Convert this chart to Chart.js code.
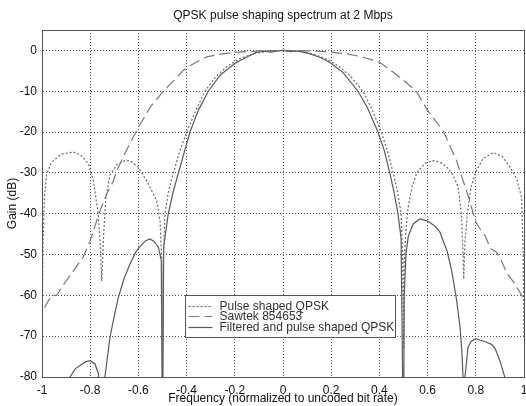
<!DOCTYPE html>
<html>
<head>
<meta charset="utf-8">
<script src="https://cdn.jsdelivr.net/npm/chart.js@4.4.1/dist/chart.umd.min.js"></script>
<style>
html, body { margin: 0; padding: 0; background: #fff; }
#wrap { width: 526px; height: 406px; }
</style>
</head>
<body>
<div id="wrap"><canvas id="spectrum" width="526" height="406"></canvas></div>
<script>
const getEl = (id) => document.getElementById(id);

const freqTicks = [-1, -0.8, -0.6, -0.4, -0.2, 0, 0.2, 0.4, 0.6, 0.8, 1];
const gainTicks = [-80, -70, -60, -50, -40, -30, -20, -10, 0];

// Pulse shaped QPSK (dotted)
const pulseFreq = [-1.0, -0.996, -0.99, -0.981, -0.965, -0.953, -0.92, -0.87, -0.84, -0.808, -0.787, -0.767, -0.758, -0.752, -0.745, -0.735, -0.718, -0.69, -0.66, -0.635, -0.6, -0.566, -0.524, -0.51, -0.503, -0.5, -0.497, -0.49, -0.475, -0.455, -0.43, -0.4, -0.36, -0.324, -0.28, -0.23, -0.178, -0.12, -0.06, 0, 0.06, 0.12, 0.18, 0.23, 0.28, 0.332, 0.37, 0.408, 0.435, 0.457, 0.475, 0.49, 0.497, 0.5, 0.503, 0.51, 0.519, 0.535, 0.555, 0.59, 0.624, 0.65, 0.68, 0.705, 0.727, 0.74, 0.746, 0.75, 0.755, 0.765, 0.78, 0.8, 0.83, 0.873, 0.91, 0.942, 0.97, 0.99, 0.996, 1.0];
const pulseGain = [-71, -48, -36, -30.5, -28, -27, -25.4, -24.9, -25.6, -27.7, -31.9, -40, -48, -56.5, -46, -36, -30.5, -28, -27.1, -27, -28.6, -31.9, -36.8, -42, -52, -75, -52, -40, -34.5, -30, -25, -20, -14.5, -10, -6.5, -3.8, -2, -0.8, -0.2, 0, -0.2, -0.8, -2.1, -3.8, -6.3, -10, -14.5, -20, -25, -30, -34.5, -40, -52, -73, -52, -44, -38.5, -33.5, -30, -27.6, -27, -27.3, -28.6, -30.5, -33.5, -40, -48, -56, -47, -40, -33.5, -29.8, -26.5, -25, -26, -28.6, -31.5, -36, -48, -70];

// Sawtek 854653 (dashed)
const sawtekFreq = [-0.99, -0.975, -0.96, -0.939, -0.918, -0.87, -0.829, -0.8, -0.759, -0.73, -0.704, -0.69, -0.65, -0.6, -0.55, -0.497, -0.45, -0.414, -0.37, -0.317, -0.26, -0.206, -0.1, 0, 0.1, 0.18, 0.26, 0.33, 0.4, 0.45, 0.5, 0.553, 0.6, 0.664, 0.72, 0.776, 0.797, 0.82, 0.84, 0.86, 0.887, 0.91, 0.928, 0.96, 0.996];
const sawtekGain = [-63, -61.5, -60, -60, -58, -54, -50.6, -46.6, -39.2, -35, -32, -29.5, -24.5, -18.8, -13.8, -10, -7.2, -4.9, -3.2, -1.6, -0.9, -0.5, -0.1, 0, -0.1, -0.3, -0.8, -1.6, -2.9, -5, -7.3, -10, -14.7, -19.6, -27, -37, -41.7, -44, -45.5, -48.5, -49.5, -52, -54.5, -57, -60.5];

// Filtered and pulse shaped QPSK (solid)
const filteredFreq = [-0.9, -0.884, -0.862, -0.842, -0.82, -0.8, -0.78, -0.766, -0.752, -0.739, -0.718, -0.7, -0.683, -0.66, -0.635, -0.61, -0.593, -0.57, -0.552, -0.535, -0.517, -0.505, -0.5, -0.495, -0.476, -0.455, -0.434, -0.41, -0.386, -0.35, -0.31, -0.26, -0.2, -0.15, -0.11, -0.08, -0.05, -0.02, 0, 0.03, 0.06, 0.1, 0.15, 0.194, 0.25, 0.311, 0.35, 0.394, 0.42, 0.443, 0.46, 0.477, 0.49, 0.5, 0.503, 0.51, 0.52, 0.54, 0.568, 0.6, 0.63, 0.651, 0.68, 0.7, 0.72, 0.735, 0.742, 0.747, 0.751, 0.755, 0.768, 0.78, 0.8, 0.82, 0.845, 0.865, 0.88, 0.9, 0.92, 0.93];
const filteredGain = [-84, -80, -78, -77.2, -76.3, -76, -76.8, -79.2, -95, -80, -70.3, -65, -60.5, -56, -52.3, -49.3, -48, -46.6, -46.2, -46.8, -48.2, -51.5, -100, -48, -40, -34.5, -30, -25, -20, -14.5, -10, -6, -3.2, -1.6, -0.5, -0.2, -0.4, -0.1, 0, -0.3, -0.1, -0.6, -1.6, -2.9, -5.5, -10, -14, -20, -24.5, -30, -34.5, -40, -46, -100, -60, -50, -45.5, -42.5, -41.3, -41.8, -43, -44.5, -49, -54, -61, -68, -73.5, -80, -95, -80, -72.7, -71.3, -70.6, -71, -71.5, -72, -73, -76, -80, -84];

const toPoints = (xs, ys) => xs.map((x, i) => ({ x: x, y: ys[i] }));

const textFont = { family: "'Liberation Sans', Arial, sans-serif", size: 12 };

// frame round the plot and the boxed legend inside it
const frameAndLegend = {
    id: 'frameAndLegend',
    afterDatasetsDraw(chart) {
        const { ctx, chartArea: a, scales: { x, y } } = chart;
        ctx.save();
        ctx.strokeStyle = '#555';
        ctx.lineWidth = 1;
        ctx.strokeRect(Math.round(a.left) + 0.5, Math.round(a.top) + 0.5, Math.round(a.right - a.left), Math.round(a.bottom - a.top));

        const left = Math.round(x.getPixelForValue(-0.405)) + 0.5;
        const right = Math.round(x.getPixelForValue(0.465)) + 0.5;
        const top = Math.round(y.getPixelForValue(-60)) + 0.5;
        const bottom = Math.round(y.getPixelForValue(-70.3)) + 0.5;
        ctx.fillStyle = '#fff';
        ctx.fillRect(left, top, right - left, bottom - top);
        ctx.strokeStyle = '#555';
        ctx.strokeRect(left, top, right - left, bottom - top);

        ctx.font = "12px 'Liberation Sans', Arial, sans-serif";
        ctx.textBaseline = 'middle';
        chart.data.datasets.forEach((ds, i) => {
            const ly = Math.round(top + 10 + i * 10.5) + 0.5;
            ctx.strokeStyle = ds.borderColor;
            ctx.lineWidth = ds.borderWidth;
            ctx.setLineDash(ds.borderDash || []);
            ctx.beginPath();
            ctx.moveTo(left + 3, ly);
            ctx.lineTo(left + 27, ly);
            ctx.stroke();
            ctx.setLineDash([]);
            ctx.fillStyle = '#333';
            ctx.fillText(ds.label, left + 34, ly);
        });
        ctx.restore();
    }
};

new Chart(getEl('spectrum').getContext('2d'), {
    type: 'scatter',
    data: {
        datasets: [
            { label: 'Pulse shaped QPSK', data: toPoints(pulseFreq, pulseGain), borderColor: '#6a6a6a', borderWidth: 1.2, borderDash: [2, 2] },
            { label: 'Sawtek 854653', data: toPoints(sawtekFreq, sawtekGain), borderColor: '#7a7a7a', borderWidth: 1.2, borderDash: [11, 5] },
            { label: 'Filtered and pulse shaped QPSK', data: toPoints(filteredFreq, filteredGain), borderColor: '#5a5a5a', borderWidth: 1.2 }
        ].map(ds => Object.assign(ds, { showLine: true, pointRadius: 0, fill: false, tension: 0 }))
    },
    plugins: [frameAndLegend],
    options: {
        responsive: false,
        animation: false,
        devicePixelRatio: 1,
        layout: { padding: { left: 0, right: 2, top: 0, bottom: 0 } },
        plugins: {
            legend: { display: false },
            tooltip: { enabled: false },
            title: {
                display: true,
                text: 'QPSK pulse shaping spectrum at 2 Mbps',
                color: '#111',
                font: { family: textFont.family, size: 12, weight: 'normal' },
                padding: { top: 8, bottom: 7.6 },
                fullSize: false
            }
        },
        scales: {
            x: {
                type: 'linear',
                min: -1,
                max: 1,
                afterBuildTicks: (s) => { s.ticks = freqTicks.map(v => ({ value: v })); },
                afterFit: (s) => { s.height = 29; s.paddingLeft = 0; s.paddingRight = 0; },
                ticks: { color: '#111', font: textFont, padding: 6, maxRotation: 0, callback: (v) => String(v) },
                grid: { color: '#555', lineWidth: 1, drawTicks: false },
                border: { display: true, color: '#555', dash: [1, 2] },
                title: { display: true, text: 'Frequency (normalized to uncoded bit rate)', color: '#111', font: textFont, padding: { top: 0, bottom: 0 } }
            },
            y: {
                type: 'linear',
                min: -80,
                max: 5,
                afterBuildTicks: (s) => { s.ticks = gainTicks.map(v => ({ value: v })); },
                afterFit: (s) => { s.width = 42; s.paddingTop = 0; s.paddingBottom = 0; },
                ticks: { color: '#111', font: textFont, padding: 5, callback: (v) => String(v) },
                grid: { color: '#555', lineWidth: 1, drawTicks: false },
                border: { display: true, color: '#555', dash: [1, 2] },
                title: { display: true, text: 'Gain (dB)', color: '#111', font: textFont, padding: { top: 5, bottom: 0 } }
            }
        }
    }
});
</script>
</body>
</html>
